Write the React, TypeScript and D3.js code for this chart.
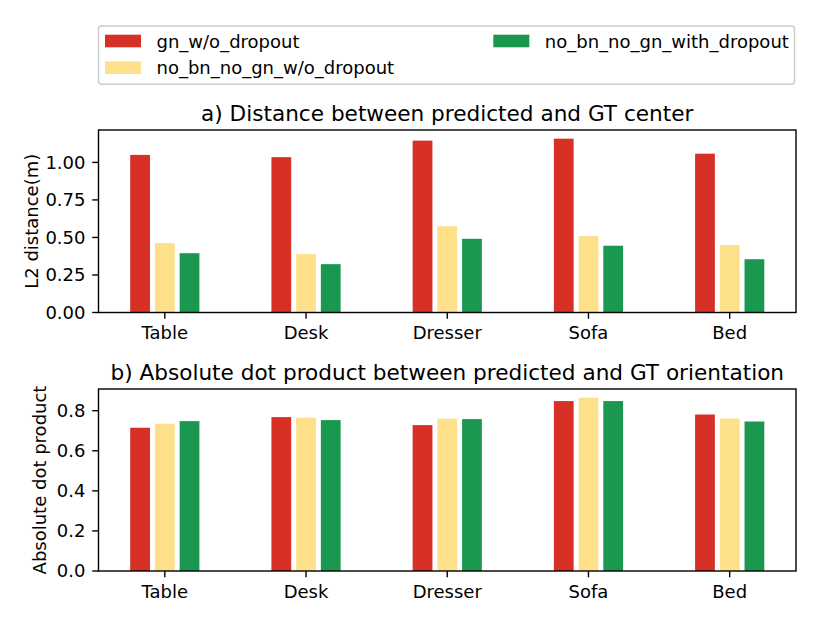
import { useEffect, useRef } from "react";
import * as d3 from "d3";

const categories = ["Table", "Desk", "Dresser", "Sofa", "Bed"];
const seriesNames = ["gn_w/o_dropout", "no_bn_no_gn_w/o_dropout", "no_bn_no_gn_with_dropout"];
const seriesColors = ["#d73027", "#fee08b", "#1a9850"];

const distGn = [1.05, 1.035, 1.145, 1.158, 1.058];
const distNoWo = [0.462, 0.389, 0.575, 0.509, 0.449];
const distNoWith = [0.395, 0.322, 0.491, 0.445, 0.355];

const dotGn = [0.715, 0.768, 0.728, 0.848, 0.781];
const dotNoWo = [0.735, 0.765, 0.76, 0.865, 0.761];
const dotNoWith = [0.748, 0.753, 0.758, 0.848, 0.746];

const distTicks = [0, 0.25, 0.5, 0.75, 1.0];
const dotTicks = [0, 0.2, 0.4, 0.6, 0.8];

const FONT = "DejaVu Sans";

export default function App() {
  const ref = useRef<SVGSVGElement>(null);

  useEffect(() => {
    if (!ref.current) return;
    const svg = d3.select(ref.current);
    svg.selectAll("*").remove();

    const left = 98.5, right = 796;
    const barW = 0.14, offset = 0.175;
    const x = d3.scaleLinear().domain([-0.4695, 4.4695]).range([left, right]);

    const panel = (
      top: number, bottom: number, series: number[][], ticks: number[],
      fmt: string, title: string, ylabel: string, ylabelX: number
    ) => {
      const maxV = d3.max(series.flat())! * 1.05;
      const y = d3.scaleLinear().domain([0, maxV]).range([bottom, top]);
      const g = svg.append("g");

      series.forEach((vals, si) => {
        g.selectAll(null).data(vals).enter().append("rect")
          .attr("x", (_, i) => x(i + (si - 1) * offset - barW / 2))
          .attr("width", x(barW) - x(0))
          .attr("y", (d) => y(d))
          .attr("height", (d) => y(0) - y(d))
          .attr("fill", seriesColors[si]);
      });

      // frame
      g.append("rect").attr("x", left).attr("y", top)
        .attr("width", right - left).attr("height", bottom - top)
        .attr("fill", "none").attr("stroke", "#000").attr("stroke-width", 1.4);

      // y ticks
      ticks.forEach((t) => {
        g.append("line").attr("x1", left - 6.3).attr("x2", left)
          .attr("y1", y(t)).attr("y2", y(t)).attr("stroke", "#000").attr("stroke-width", 1.4);
        g.append("text").attr("x", left - 13).attr("y", y(t)).attr("dy", "0.36em")
          .attr("text-anchor", "end").style("font-family", FONT).style("font-size", "18px")
          .text(d3.format(fmt)(t));
      });

      // x ticks
      categories.forEach((c, i) => {
        g.append("line").attr("x1", x(i)).attr("x2", x(i))
          .attr("y1", bottom).attr("y2", bottom + 6.3).attr("stroke", "#000").attr("stroke-width", 1.4);
        g.append("text").attr("x", x(i)).attr("y", bottom + 26.8)
          .attr("text-anchor", "middle").style("font-family", FONT).style("font-size", "18px")
          .text(c);
      });

      g.append("text").attr("x", (left + right) / 2).attr("y", top - 9)
        .attr("text-anchor", "middle").style("font-family", FONT).style("font-size", "21.6px")
        .text(title);

      g.append("text")
        .attr("transform", `translate(${ylabelX},${(top + bottom) / 2}) rotate(-90)`)
        .attr("text-anchor", "middle").attr("dy", "0.36em")
        .style("font-family", FONT).style("font-size", "18px")
        .text(ylabel);
    };

    panel(130, 312.5, [distGn, distNoWo, distNoWith], distTicks, ".2f",
      "a) Distance between predicted and GT center", "L2 distance(m)", 31.5);
    panel(389, 571, [dotGn, dotNoWo, dotNoWith], dotTicks, ".1f",
      "b) Absolute dot product between predicted and GT orientation", "Absolute dot product", 40);

    // legend
    const lg = svg.append("g");
    lg.append("rect").attr("x", 98.5).attr("y", 26).attr("width", 696).attr("height", 58.3)
      .attr("rx", 3).attr("fill", "#fff").attr("stroke", "#cccccc").attr("stroke-width", 1.4);
    const slots = [
      { px: 105, row: 0 },
      { px: 105, row: 1 },
      { px: 493.3, row: 0 },
    ];
    seriesNames.forEach((name, i) => {
      const s = slots[i];
      const cy = 41 + s.row * 26.7;
      lg.append("rect").attr("x", s.px).attr("y", cy - 6.3).attr("width", 36).attr("height", 12.6)
        .attr("fill", seriesColors[i]);
      lg.append("text").attr("x", s.px + 51.5).attr("y", cy + 6.6)
        .style("font-family", FONT).style("font-size", "18px").text(name);
    });
  }, []);

  return (
    <svg ref={ref} width={830} height={622}
      style={{ position: "fixed", left: 0, top: 0, background: "#fff" }} />
  );
}
